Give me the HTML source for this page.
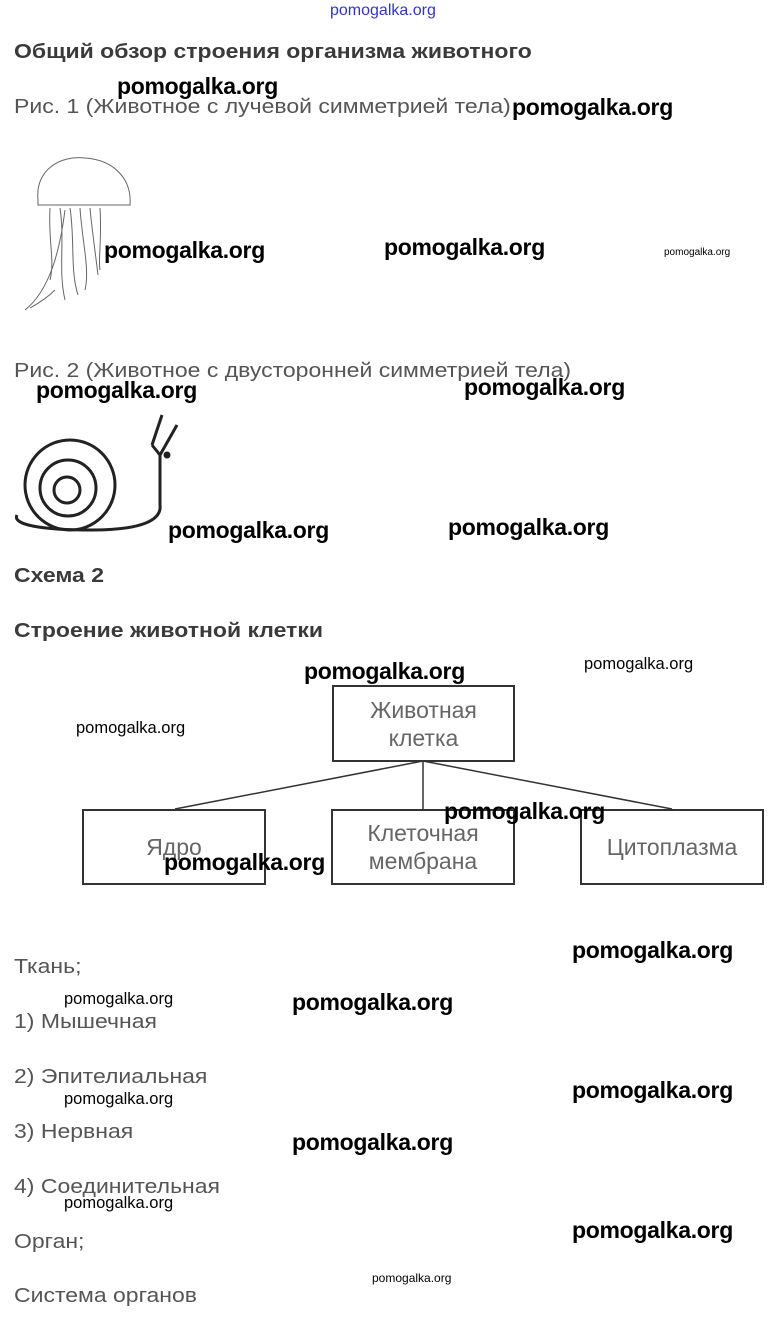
<!DOCTYPE html>
<html><head><meta charset="utf-8"><style>
body{margin:0;background:#fff;width:774px;height:1322px;position:relative;overflow:hidden;font-family:"Liberation Sans",sans-serif}
.a{position:absolute;white-space:nowrap}
.h{font-weight:bold;color:#3a3a3a;font-size:23px;transform:scaleY(0.9);transform-origin:left top}
.t{color:#555;font-size:23px;transform:scaleY(0.9);transform-origin:left top}
.w{font-weight:bold;color:#000;font-size:23px;letter-spacing:-0.3px}
.s{color:#000;font-size:16.5px}
.box{position:absolute;border:2px solid #333;box-sizing:border-box;display:flex;align-items:center;justify-content:center;text-align:center;color:#666;font-size:23px;line-height:28px;background:transparent}
</style></head><body>
<div class="a" style="left:330px;top:2px;color:#33c;font-size:16px">pomogalka.org</div>
<div class="a h" style="left:14px;top:39px">Общий обзор строения организма животного</div>
<div class="a t" style="left:14px;top:94px">Рис. 1 (Животное с лучевой симметрией тела)</div>
<div class="a w" style="left:117px;top:73px">pomogalka.org</div>
<div class="a w" style="left:512px;top:94px">pomogalka.org</div>

<svg class="a" style="left:20px;top:150px" width="120" height="170" viewBox="0 0 120 170" fill="none" stroke="#666" stroke-width="1">
<path d="M18 50 C15 20 40 5 65 8 C95 10 112 30 110 55 L18 55 Z"/>
<path d="M30 58 C28 90 35 110 30 130 M40 58 C45 90 38 120 45 150 M50 58 C55 90 50 120 58 145 M60 58 C62 90 70 120 65 140 M70 58 C72 80 75 100 78 125 M80 58 C82 90 78 110 80 120 M45 60 C40 100 30 140 5 160 M35 140 C25 150 15 155 10 158"/>
</svg>
<div class="a w" style="left:104px;top:237px">pomogalka.org</div>
<div class="a w" style="left:384px;top:234px">pomogalka.org</div>
<div class="a s" style="left:664px;top:247px;font-size:10px">pomogalka.org</div>

<div class="a t" style="left:14px;top:358px">Рис. 2 (Животное с двусторонней симметрией тела)</div>
<div class="a w" style="left:36px;top:377px">pomogalka.org</div>
<div class="a w" style="left:464px;top:374px">pomogalka.org</div>
<svg class="a" style="left:12px;top:410px" width="180" height="125" viewBox="0 0 180 125" fill="none" stroke="#222" stroke-width="3">
<path d="M5 105 C0 115 30 120 80 120 C130 120 150 110 148 95 L148 45 L140 35 M148 45 L165 15 M140 35 L150 5"/>
<circle cx="58" cy="75" r="45"/>
<circle cx="56" cy="78" r="28"/>
<circle cx="55" cy="80" r="13"/>
<circle cx="155" cy="45" r="2" fill="#222"/>
</svg>
<div class="a w" style="left:168px;top:517px">pomogalka.org</div>
<div class="a w" style="left:448px;top:514px">pomogalka.org</div>

<div class="a h" style="left:14px;top:563px">Схема 2</div>
<div class="a h" style="left:14px;top:618px">Строение животной клетки</div>
<div class="a w" style="left:304px;top:658px">pomogalka.org</div>
<div class="a s" style="left:584px;top:655px">pomogalka.org</div>
<div class="a s" style="left:76px;top:719px">pomogalka.org</div>

<svg class="a" style="left:0;top:0" width="774" height="900">
<g stroke="#333" stroke-width="1.5">
<line x1="423" y1="761" x2="175" y2="809"/>
<line x1="423" y1="761" x2="423" y2="809"/>
<line x1="423" y1="761" x2="672" y2="809"/>
</g></svg>
<div class="box" style="left:332px;top:685px;width:183px;height:77px">Животная<br>клетка</div>
<div class="box" style="left:82px;top:809px;width:184px;height:76px">Ядро</div>
<div class="box" style="left:331px;top:809px;width:184px;height:76px">Клеточная<br>мембрана</div>
<div class="box" style="left:580px;top:809px;width:184px;height:76px">Цитоплазма</div>
<div class="a w" style="left:444px;top:798px">pomogalka.org</div>
<div class="a w" style="left:164px;top:849px">pomogalka.org</div>

<div class="a t" style="left:14px;top:954px">Ткань;</div>
<div class="a w" style="left:572px;top:937px">pomogalka.org</div>
<div class="a s" style="left:64px;top:990px">pomogalka.org</div>
<div class="a w" style="left:292px;top:989px">pomogalka.org</div>
<div class="a t" style="left:14px;top:1009px">1) Мышечная</div>
<div class="a t" style="left:14px;top:1064px">2) Эпителиальная</div>
<div class="a w" style="left:572px;top:1077px">pomogalka.org</div>
<div class="a s" style="left:64px;top:1090px">pomogalka.org</div>
<div class="a t" style="left:14px;top:1119px">3) Нервная</div>
<div class="a w" style="left:292px;top:1129px">pomogalka.org</div>
<div class="a t" style="left:14px;top:1174px">4) Соединительная</div>
<div class="a s" style="left:64px;top:1194px">pomogalka.org</div>
<div class="a t" style="left:14px;top:1229px">Орган;</div>
<div class="a w" style="left:572px;top:1217px">pomogalka.org</div>
<div class="a s" style="left:372px;top:1271px;font-size:12px">pomogalka.org</div>
<div class="a t" style="left:14px;top:1283px">Система органов</div>
</body></html>
